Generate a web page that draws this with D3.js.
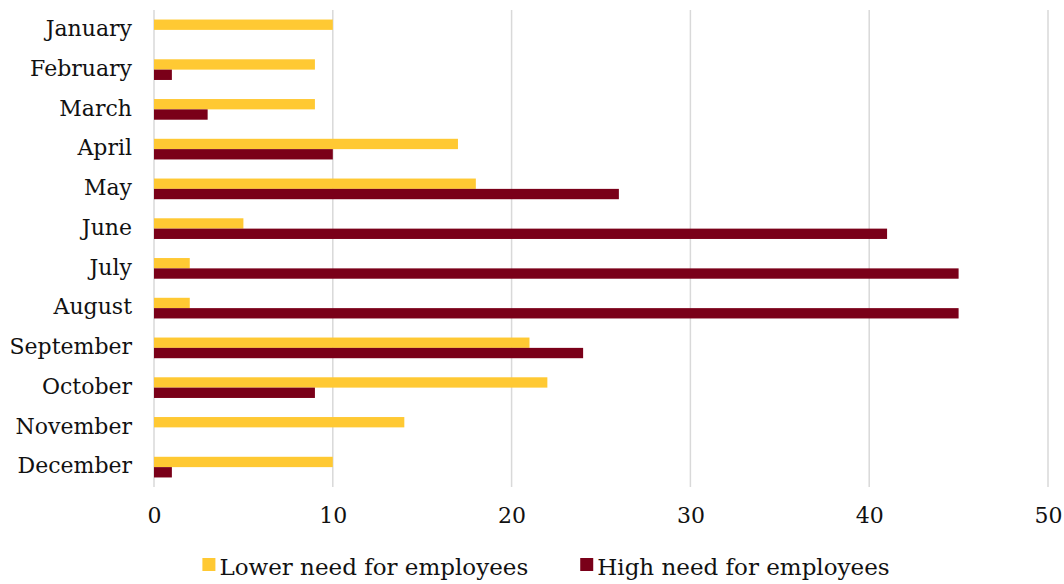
<!DOCTYPE html>
<html>
<head>
<meta charset="utf-8">
<script src="https://cdn.jsdelivr.net/npm/d3@7"></script>
<style>
  html, body { margin: 0; padding: 0; background: #fff; }
  svg { display: block; font-family: "DejaVu Serif", serif; }
</style>
</head>
<body>
<svg id="chart" width="1064" height="584"></svg>
<script>
// Monthly counts of companies reporting their need for employees
const months = ["January", "February", "March", "April", "May", "June",
                "July", "August", "September", "October", "November", "December"];
const lowerNeed = [10, 9, 9, 17, 18, 5, 2, 2, 21, 22, 14, 10];
const highNeed  = [0, 1, 3, 10, 26, 41, 45, 45, 24, 9, 0, 1];
const seriesNames = ["Lower need for employees", "High need for employees"];
const seriesColors = ["#FFC933", "#7A0019"];
const xTicks = [0, 10, 20, 30, 40, 50];

const svg = d3.select("#chart");
const margin = { left: 154, right: 16, top: 10, bottom: 97 };
const width = 1064, height = 584;

const x = d3.scaleLinear()
  .domain([0, 50])
  .range([margin.left, width - margin.right]);

const y = d3.scaleBand()
  .domain(months)
  .range([margin.top, height - margin.bottom])
  .paddingInner(0.48)
  .paddingOuter(0.24);

const inner = d3.scaleBand()
  .domain([0, 1])
  .range([0, y.bandwidth()]);

// vertical gridlines
svg.append("g")
  .selectAll("line")
  .data(xTicks)
  .join("line")
  .attr("x1", d => x(d)).attr("x2", d => x(d))
  .attr("y1", margin.top).attr("y2", height - margin.bottom)
  .attr("stroke", "#d9d9d9")
  .attr("stroke-width", 1.5);

// x axis tick labels
const xAxis = d3.axisBottom(x).tickValues(xTicks).tickSize(0).tickPadding(0);
svg.append("g")
  .attr("transform", `translate(0, ${height - margin.bottom + 20})`)
  .call(xAxis)
  .call(g => g.select(".domain").remove())
  .call(g => g.selectAll("text")
    .attr("font-family", "DejaVu Serif, serif")
    .attr("font-size", 22)
    .attr("fill", "#111"));

// category labels
const yAxis = d3.axisLeft(y).tickSize(0).tickPadding(22);
svg.append("g")
  .attr("transform", `translate(${margin.left}, 0)`)
  .call(yAxis)
  .call(g => g.select(".domain").remove())
  .call(g => g.selectAll("text")
    .attr("font-family", "DejaVu Serif, serif")
    .attr("font-size", 22)
    .attr("fill", "#111")
    .attr("dy", "0.28em"));

// bars
const rows = months.map((m, i) => ({ month: m, values: [lowerNeed[i], highNeed[i]] }));
const groups = svg.append("g")
  .selectAll("g")
  .data(rows)
  .join("g")
  .attr("transform", d => `translate(0, ${y(d.month)})`);

groups.selectAll("rect")
  .data(d => d.values.map((v, k) => ({ v, k })))
  .join("rect")
  .attr("x", x(0))
  .attr("y", d => inner(d.k))
  .attr("width", d => x(d.v) - x(0))
  .attr("height", inner.bandwidth())
  .attr("fill", d => seriesColors[d.k]);

// legend
const legend = svg.append("g");
const items = legend.selectAll("g")
  .data(seriesNames)
  .join("g");
items.append("rect")
  .attr("width", 13).attr("height", 13)
  .attr("y", -10)
  .attr("fill", (d, i) => seriesColors[i]);
items.append("text")
  .attr("x", 17)
  .attr("y", 0)
  .attr("dy", "0.3em")
  .attr("font-size", 23)
  .attr("fill", "#111")
  .text(d => d);

let cursor = 0;
items.each(function () {
  const g = d3.select(this);
  g.attr("transform", `translate(${cursor}, 0)`);
  const w = 17 + g.select("text").node().getComputedTextLength();
  cursor += w + 52;
});
const totalW = cursor - 52;
legend.attr("transform", `translate(${546 - totalW / 2}, 568)`);
</script>
</body>
</html>
